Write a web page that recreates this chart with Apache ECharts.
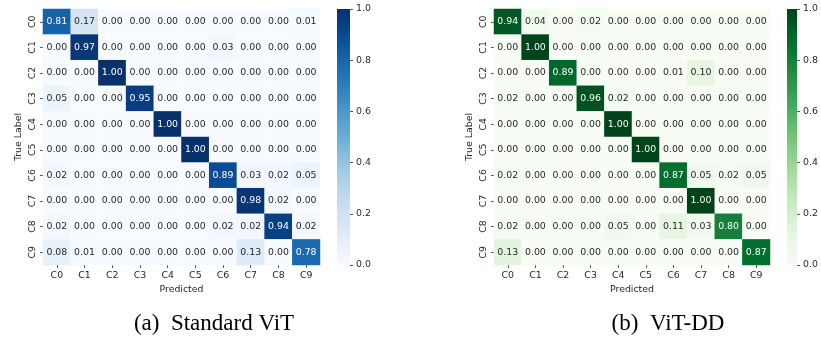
<!DOCTYPE html>
<html><head><meta charset="utf-8">
<script src="https://cdn.jsdelivr.net/npm/echarts@6/dist/echarts.min.js"></script>
<style>html,body{margin:0;padding:0;background:#fff}#c{width:821px;height:339px}</style>
</head><body><div id="c"></div>
<script>
const classes = ['C0','C1','C2','C3','C4','C5','C6','C7','C8','C9'];
const cbTicks = [0, 0.2, 0.4, 0.6, 0.8, 1.0];
const captionA = '(a)\u00a0 Standard ViT';
const captionB = '(b)\u00a0 ViT-DD';
const xName = 'Predicted';
const yName = 'True Label';

const cmStandard = [
  [0.81,0.17,0.00,0.00,0.00,0.00,0.00,0.00,0.00,0.01],
  [0.00,0.97,0.00,0.00,0.00,0.00,0.03,0.00,0.00,0.00],
  [0.00,0.00,1.00,0.00,0.00,0.00,0.00,0.00,0.00,0.00],
  [0.05,0.00,0.00,0.95,0.00,0.00,0.00,0.00,0.00,0.00],
  [0.00,0.00,0.00,0.00,1.00,0.00,0.00,0.00,0.00,0.00],
  [0.00,0.00,0.00,0.00,0.00,1.00,0.00,0.00,0.00,0.00],
  [0.02,0.00,0.00,0.00,0.00,0.00,0.89,0.03,0.02,0.05],
  [0.00,0.00,0.00,0.00,0.00,0.00,0.00,0.98,0.02,0.00],
  [0.02,0.00,0.00,0.00,0.00,0.00,0.02,0.02,0.94,0.02],
  [0.08,0.01,0.00,0.00,0.00,0.00,0.00,0.13,0.00,0.78]
];
const cmViTDD = [
  [0.94,0.04,0.00,0.02,0.00,0.00,0.00,0.00,0.00,0.00],
  [0.00,1.00,0.00,0.00,0.00,0.00,0.00,0.00,0.00,0.00],
  [0.00,0.00,0.89,0.00,0.00,0.00,0.01,0.10,0.00,0.00],
  [0.02,0.00,0.00,0.96,0.02,0.00,0.00,0.00,0.00,0.00],
  [0.00,0.00,0.00,0.00,1.00,0.00,0.00,0.00,0.00,0.00],
  [0.00,0.00,0.00,0.00,0.00,1.00,0.00,0.00,0.00,0.00],
  [0.02,0.00,0.00,0.00,0.00,0.00,0.87,0.05,0.02,0.05],
  [0.00,0.00,0.00,0.00,0.00,0.00,0.00,1.00,0.00,0.00],
  [0.02,0.00,0.00,0.00,0.05,0.00,0.11,0.03,0.80,0.00],
  [0.13,0.00,0.00,0.00,0.00,0.00,0.00,0.00,0.00,0.87]
];

const blues = ['#f7fbff','#deebf7','#c6dbef','#9ecae1','#6baed6','#4292c6','#2171b5','#08519c','#08306b'];
const greens = ['#f7fcf5','#e5f5e0','#c7e9c0','#a1d99b','#74c476','#41ab5d','#238b45','#006d2c','#00441b'];

const FONT = 'DejaVu Sans';
const FS = 9.4;
const TXT = '#262626';

function cells(m){
  const out = [];
  m.forEach((row, r) => row.forEach((v, c) => {
    out.push({value:[c, r, v], label:{color: v > 0.5 ? '#ffffff' : TXT}});
  }));
  return out;
}
function grad(cols){
  return new echarts.graphic.LinearGradient(0,1,0,0, cols.map((c,i)=>({offset:i/(cols.length-1), color:c})));
}

const grids = [
  {left:43, top:9, width:277, height:256},
  {left:337, top:9, width:13, height:256},
  {left:494, top:9, width:276, height:256},
  {left:787, top:9, width:13, height:256}
];

function hmX(gi){
  return {type:'category', gridIndex:gi, data:classes, position:'bottom',
    axisLine:{show:false}, splitArea:{show:false},
    axisTick:{show:true, alignWithLabel:true, length:3, lineStyle:{color:'#555'}},
    axisLabel:{color:TXT, fontFamily:FONT, fontSize:FS, margin:6},
    name:xName, nameLocation:'middle', nameGap:20,
    nameTextStyle:{color:TXT, fontFamily:FONT, fontSize:FS}};
}
function hmY(gi){
  return {type:'category', gridIndex:gi, data:classes, inverse:true,
    axisLine:{show:false}, splitArea:{show:false},
    axisTick:{show:true, alignWithLabel:true, length:3, lineStyle:{color:'#555'}},
    axisLabel:{color:TXT, fontFamily:FONT, fontSize:FS, margin:6, rotate:90},
    name:yName, nameLocation:'middle', nameGap:20,
    nameTextStyle:{color:TXT, fontFamily:FONT, fontSize:FS}};
}
function cbX(gi){
  return {type:'category', gridIndex:gi, data:['cb'], show:false};
}
function cbY(gi){
  return {type:'value', gridIndex:gi, min:0, max:1, interval:0.2, position:'right',
    axisLine:{show:false}, splitLine:{show:false},
    axisTick:{show:true, length:3, lineStyle:{color:'#555'}},
    axisLabel:{color:TXT, fontFamily:FONT, fontSize:FS, margin:6,
      formatter:(v)=>v.toFixed(1)}};
}

const chart = echarts.init(document.getElementById('c'), null, {renderer:'canvas'});
chart.setOption({
  animation:false,
  backgroundColor:'#fff',
  grid: grids,
  xAxis:[hmX(0), cbX(1), hmX(2), cbX(3)],
  yAxis:[hmY(0), cbY(1), hmY(2), cbY(3)],
  visualMap:[
    {type:'continuous', show:false, min:0, max:1, dimension:2, seriesIndex:0, inRange:{color:blues}},
    {type:'continuous', show:false, min:0, max:1, dimension:2, seriesIndex:2, inRange:{color:greens}}
  ],
  series:[
    {type:'heatmap', xAxisIndex:0, yAxisIndex:0, data:cells(cmStandard),
      label:{show:true, fontFamily:FONT, fontSize:FS, formatter:(p)=>p.value[2].toFixed(2)}},
    {type:'bar', xAxisIndex:1, yAxisIndex:1, data:[cbTicks[cbTicks.length-1]], barWidth:'100%',
      itemStyle:{color:grad(blues)}, silent:true},
    {type:'heatmap', xAxisIndex:2, yAxisIndex:2, data:cells(cmViTDD),
      label:{show:true, fontFamily:FONT, fontSize:FS, formatter:(p)=>p.value[2].toFixed(2)}},
    {type:'bar', xAxisIndex:3, yAxisIndex:3, data:[cbTicks[cbTicks.length-1]], barWidth:'100%',
      itemStyle:{color:grad(greens)}, silent:true}
  ],
  graphic:[
    {type:'text', x:214, y:324, style:{text:captionA, fontFamily:'Liberation Serif', fontSize:23, fill:'#000', align:'center', verticalAlign:'middle'}},
    {type:'text', x:668, y:324, style:{text:captionB, fontFamily:'Liberation Serif', fontSize:23, fill:'#000', align:'center', verticalAlign:'middle'}}
  ]
});
</script></body></html>
